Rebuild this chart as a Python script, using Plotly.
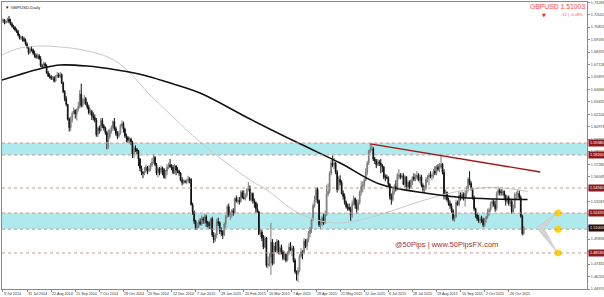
import plotly.graph_objects as go

# ---------------- data ----------------
opens = [
1.7140,1.7155,1.7125,1.7140,1.7160,1.7135,1.7110,1.7090,1.7080,1.7055,
1.7040,1.7005,1.6975,1.6980,1.6960,1.6950,1.6915,1.6880,1.6830,1.6865,
1.6855,1.6825,1.6800,1.6785,1.6800,1.6770,1.6700,1.6695,1.6720,1.6700,
1.6630,1.6600,1.6590,1.6575,1.6585,1.6550,1.6595,1.6610,1.6595,1.6615,
1.6530,1.6445,1.6375,1.6320,1.6175,1.6090,1.6170,1.6230,1.6260,1.6225,
1.6270,1.6300,1.6420,1.6310,1.6355,1.6375,1.6325,1.6290,1.6235,1.6250,
1.6210,1.6190,1.6165,1.6020,1.6085,1.6060,1.6160,1.6105,1.6085,1.6040,
1.5950,1.6000,1.6060,1.6090,1.6150,1.6080,1.6030,1.6005,1.6035,1.6110,
1.6130,1.6075,1.6010,1.5990,1.5965,1.5975,1.5950,1.5830,1.5885,1.5875,
1.5860,1.5780,1.5690,1.5650,1.5640,1.5660,1.5700,1.5665,1.5680,1.5720,
1.5750,1.5795,1.5725,1.5640,1.5685,1.5650,1.5690,1.5675,1.5600,1.5660,
1.5700,1.5720,1.5705,1.5700,1.5645,1.5710,1.5670,1.5660,1.5640,1.5570,
1.5545,1.5560,1.5555,1.5560,1.5585,1.5580,1.5330,1.5260,1.5165,1.5100,
1.5115,1.5160,1.5140,1.5190,1.5180,1.5210,1.5150,1.5150,1.5120,1.5190,
1.5030,1.4980,1.5030,1.5160,1.5150,1.5070,1.5065,1.5030,1.5140,1.5210,
1.5310,1.5235,1.5240,1.5270,1.5250,1.5390,1.5365,1.5370,1.5360,1.5450,
1.5400,1.5390,1.5420,1.5480,1.5500,1.5380,1.5440,1.5370,1.5350,1.5290,
1.5260,1.5040,1.5060,1.5000,1.4910,1.5000,1.4730,1.4745,1.4810,1.4960,
1.4750,1.4920,1.4880,1.4970,1.4850,1.4905,1.4860,1.4800,1.4840,1.4780,
1.4850,1.4910,1.4880,1.4900,1.4780,1.4670,1.4640,1.4680,1.4820,1.4860,
1.4850,1.4970,1.4920,1.4985,1.5045,1.5090,1.5180,1.5320,1.5380,1.5480,
1.5370,1.5130,1.5150,1.5200,1.5150,1.5230,1.5440,1.5460,1.5640,1.5740,
1.5720,1.5740,1.5650,1.5480,1.5580,1.5550,1.5440,1.5410,1.5350,1.5310,
1.5300,1.5285,1.5230,1.5340,1.5390,1.5330,1.5285,1.5350,1.5455,1.5510,
1.5520,1.5570,1.5650,1.5740,1.5860,1.5880,1.5880,1.5780,1.5760,1.5720,
1.5750,1.5740,1.5720,1.5700,1.5600,1.5600,1.5595,1.5530,1.5410,1.5380,
1.5460,1.5510,1.5490,1.5620,1.5620,1.5600,1.5615,1.5530,1.5605,1.5500,
1.5550,1.5500,1.5570,1.5600,1.5580,1.5600,1.5620,1.5570,1.5605,1.5520,
1.5480,1.5495,1.5580,1.5600,1.5620,1.5610,1.5620,1.5660,1.5640,1.5700,
1.5680,1.5700,1.5730,1.5650,1.5420,1.5450,1.5380,1.5340,1.5320,1.5270,
1.5190,1.5210,1.5350,1.5330,1.5420,1.5390,1.5430,1.5390,1.5440,1.5490,
1.5580,1.5540,1.5490,1.5400,1.5290,1.5230,1.5190,1.5170,1.5190,1.5180,
1.5130,1.5190,1.5210,1.5260,1.5280,1.5340,1.5360,1.5330,1.5290,1.5440,
1.5470,1.5450,1.5450,1.5460,1.5420,1.5360,1.5400,1.5340,1.5360,1.5260,
1.5300,1.5430,1.5430,1.5440,1.5400,1.5220,1.5045]
highs = [
1.7170,1.7160,1.7150,1.7175,1.7192,1.7165,1.7130,1.7105,1.7090,1.7070,
1.7055,1.7015,1.6995,1.6995,1.6985,1.6970,1.6930,1.6890,1.6880,1.6895,
1.6870,1.6850,1.6820,1.6820,1.6815,1.6795,1.6720,1.6740,1.6735,1.6715,
1.6650,1.6625,1.6610,1.6600,1.6600,1.6610,1.6640,1.6630,1.6640,1.6625,
1.6545,1.6460,1.6400,1.6320,1.6190,1.6200,1.6250,1.6290,1.6270,1.6280,
1.6345,1.6460,1.6525,1.6380,1.6410,1.6390,1.6345,1.6315,1.6280,1.6265,
1.6240,1.6220,1.6185,1.6100,1.6110,1.6185,1.6185,1.6125,1.6100,1.6060,
1.6070,1.6080,1.6110,1.6160,1.6185,1.6100,1.6055,1.6060,1.6125,1.6160,
1.6150,1.6090,1.6030,1.6005,1.6000,1.5990,1.5960,1.5905,1.5915,1.5890,
1.5870,1.5790,1.5715,1.5660,1.5700,1.5725,1.5710,1.5720,1.5740,1.5790,
1.5825,1.5810,1.5740,1.5700,1.5700,1.5715,1.5705,1.5690,1.5670,1.5730,
1.5745,1.5780,1.5730,1.5720,1.5730,1.5720,1.5700,1.5675,1.5650,1.5600,
1.5580,1.5575,1.5580,1.5615,1.5600,1.5590,1.5350,1.5270,1.5180,1.5145,
1.5180,1.5195,1.5225,1.5210,1.5240,1.5230,1.5170,1.5165,1.5200,1.5210,
1.5060,1.5050,1.5190,1.5200,1.5165,1.5105,1.5080,1.5155,1.5230,1.5330,
1.5340,1.5260,1.5285,1.5295,1.5400,1.5420,1.5400,1.5405,1.5470,1.5470,
1.5470,1.5440,1.5490,1.5552,1.5520,1.5450,1.5450,1.5390,1.5360,1.5340,
1.5270,1.5090,1.5080,1.5030,1.5020,1.5010,1.4820,1.4850,1.5150,1.4990,
1.4950,1.4960,1.4990,1.4980,1.4930,1.4935,1.4880,1.4870,1.4850,1.4870,
1.4950,1.4960,1.4930,1.4920,1.4800,1.4680,1.4710,1.4840,1.4900,1.4880,
1.5000,1.4990,1.5000,1.5070,1.5110,1.5200,1.5340,1.5420,1.5500,1.5500,
1.5380,1.5190,1.5220,1.5240,1.5270,1.5525,1.5540,1.5660,1.5770,1.5815,
1.5790,1.5750,1.5670,1.5610,1.5620,1.5570,1.5470,1.5440,1.5370,1.5340,
1.5340,1.5310,1.5370,1.5420,1.5400,1.5380,1.5380,1.5470,1.5560,1.5560,
1.5590,1.5690,1.5760,1.5870,1.5930,1.5920,1.5900,1.5800,1.5780,1.5780,
1.5770,1.5780,1.5730,1.5710,1.5630,1.5625,1.5610,1.5540,1.5440,1.5500,
1.5530,1.5570,1.5640,1.5680,1.5640,1.5640,1.5640,1.5620,1.5610,1.5570,
1.5570,1.5580,1.5610,1.5640,1.5630,1.5660,1.5640,1.5630,1.5625,1.5540,
1.5520,1.5600,1.5620,1.5640,1.5660,1.5640,1.5680,1.5710,1.5720,1.5730,
1.5740,1.5820,1.5740,1.5680,1.5480,1.5460,1.5400,1.5370,1.5340,1.5290,
1.5230,1.5380,1.5370,1.5460,1.5450,1.5460,1.5450,1.5470,1.5510,1.5600,
1.5660,1.5560,1.5500,1.5420,1.5300,1.5250,1.5230,1.5210,1.5220,1.5200,
1.5200,1.5220,1.5290,1.5300,1.5360,1.5390,1.5380,1.5370,1.5460,1.5508,
1.5490,1.5480,1.5480,1.5470,1.5430,1.5420,1.5420,1.5390,1.5380,1.5330,
1.5450,1.5460,1.5480,1.5470,1.5420,1.5230,1.5120]
lows = [
1.7125,1.7110,1.7115,1.7125,1.7120,1.7100,1.7075,1.7060,1.7040,1.7025,
1.6990,1.6960,1.6955,1.6940,1.6935,1.6900,1.6870,1.6810,1.6815,1.6840,
1.6810,1.6780,1.6770,1.6770,1.6760,1.6690,1.6680,1.6680,1.6680,1.6620,
1.6590,1.6575,1.6560,1.6560,1.6535,1.6540,1.6580,1.6580,1.6580,1.6520,
1.6430,1.6350,1.6300,1.6160,1.6050,1.6060,1.6140,1.6220,1.6180,1.6160,
1.6250,1.6280,1.6290,1.6290,1.6320,1.6310,1.6270,1.6220,1.6210,1.6165,
1.6160,1.6140,1.6000,1.5995,1.6030,1.6050,1.6085,1.6060,1.6020,1.5875,
1.5880,1.5980,1.6030,1.6060,1.6060,1.6010,1.5975,1.5990,1.6020,1.6090,
1.6040,1.5990,1.5945,1.5940,1.5930,1.5920,1.5790,1.5790,1.5850,1.5830,
1.5710,1.5660,1.5620,1.5590,1.5620,1.5645,1.5630,1.5650,1.5660,1.5700,
1.5735,1.5710,1.5620,1.5600,1.5620,1.5630,1.5620,1.5585,1.5585,1.5620,
1.5680,1.5690,1.5670,1.5630,1.5630,1.5620,1.5640,1.5615,1.5560,1.5520,
1.5530,1.5540,1.5530,1.5540,1.5540,1.5320,1.5230,1.5140,1.5080,1.5080,
1.5100,1.5125,1.5120,1.5140,1.5140,1.5110,1.5105,1.5090,1.5085,1.5010,
1.4950,1.4960,1.5000,1.5120,1.5040,1.5020,1.4990,1.5020,1.5100,1.5200,
1.5210,1.5180,1.5200,1.5220,1.5240,1.5350,1.5340,1.5330,1.5350,1.5390,
1.5380,1.5370,1.5400,1.5460,1.5365,1.5360,1.5340,1.5300,1.5250,1.5250,
1.5030,1.5010,1.4970,1.4890,1.4900,1.4710,1.4700,1.4720,1.4635,1.4730,
1.4740,1.4860,1.4850,1.4840,1.4830,1.4840,1.4780,1.4780,1.4760,1.4770,
1.4830,1.4870,1.4820,1.4760,1.4650,1.4580,1.4566,1.4660,1.4800,1.4790,
1.4840,1.4900,1.4880,1.4960,1.5010,1.5050,1.5170,1.5300,1.5350,1.5340,
1.5110,1.5090,1.5120,1.5130,1.5140,1.5220,1.5410,1.5440,1.5620,1.5700,
1.5680,1.5630,1.5450,1.5470,1.5520,1.5430,1.5380,1.5330,1.5290,1.5270,
1.5270,1.5170,1.5200,1.5320,1.5290,1.5240,1.5270,1.5330,1.5420,1.5450,
1.5480,1.5560,1.5620,1.5720,1.5840,1.5860,1.5760,1.5730,1.5690,1.5710,
1.5710,1.5640,1.5650,1.5580,1.5560,1.5580,1.5500,1.5380,1.5330,1.5360,
1.5430,1.5460,1.5470,1.5580,1.5580,1.5590,1.5520,1.5500,1.5480,1.5470,
1.5480,1.5490,1.5520,1.5560,1.5560,1.5580,1.5560,1.5540,1.5500,1.5450,
1.5440,1.5470,1.5550,1.5520,1.5590,1.5570,1.5590,1.5620,1.5620,1.5660,
1.5650,1.5690,1.5630,1.5380,1.5380,1.5360,1.5320,1.5290,1.5250,1.5170,
1.5160,1.5200,1.5320,1.5310,1.5370,1.5380,1.5370,1.5310,1.5400,1.5460,
1.5520,1.5470,1.5380,1.5270,1.5200,1.5170,1.5150,1.5140,1.5150,1.5107,
1.5110,1.5150,1.5190,1.5220,1.5260,1.5300,1.5310,1.5260,1.5270,1.5420,
1.5420,1.5420,1.5420,1.5380,1.5320,1.5340,1.5320,1.5310,1.5240,1.5250,
1.5290,1.5380,1.5390,1.5380,1.5200,1.5025,1.5030]
closes = [
1.7155,1.7125,1.7140,1.7160,1.7135,1.7110,1.7090,1.7080,1.7055,1.7040,
1.7005,1.6975,1.6980,1.6960,1.6950,1.6915,1.6880,1.6830,1.6865,1.6855,
1.6825,1.6800,1.6785,1.6800,1.6770,1.6700,1.6695,1.6720,1.6700,1.6630,
1.6600,1.6590,1.6575,1.6585,1.6550,1.6595,1.6610,1.6595,1.6615,1.6530,
1.6445,1.6375,1.6320,1.6175,1.6090,1.6170,1.6230,1.6260,1.6225,1.6270,
1.6300,1.6420,1.6310,1.6355,1.6375,1.6325,1.6290,1.6235,1.6250,1.6210,
1.6190,1.6165,1.6020,1.6085,1.6060,1.6160,1.6105,1.6085,1.6040,1.5950,
1.6000,1.6060,1.6090,1.6150,1.6080,1.6030,1.6005,1.6035,1.6110,1.6130,
1.6075,1.6010,1.5990,1.5965,1.5975,1.5950,1.5830,1.5885,1.5875,1.5860,
1.5780,1.5690,1.5650,1.5640,1.5660,1.5700,1.5665,1.5680,1.5720,1.5750,
1.5795,1.5725,1.5640,1.5685,1.5650,1.5690,1.5675,1.5600,1.5660,1.5700,
1.5720,1.5705,1.5700,1.5645,1.5710,1.5670,1.5660,1.5640,1.5570,1.5545,
1.5560,1.5555,1.5560,1.5585,1.5580,1.5330,1.5260,1.5165,1.5100,1.5115,
1.5160,1.5140,1.5190,1.5180,1.5210,1.5150,1.5150,1.5120,1.5190,1.5030,
1.4980,1.5030,1.5160,1.5150,1.5070,1.5065,1.5030,1.5140,1.5210,1.5310,
1.5235,1.5240,1.5270,1.5250,1.5390,1.5365,1.5370,1.5360,1.5450,1.5400,
1.5390,1.5420,1.5480,1.5500,1.5380,1.5440,1.5370,1.5350,1.5290,1.5260,
1.5040,1.5060,1.5000,1.4910,1.5000,1.4730,1.4745,1.4810,1.4960,1.4750,
1.4920,1.4880,1.4970,1.4850,1.4905,1.4860,1.4800,1.4840,1.4780,1.4850,
1.4910,1.4880,1.4900,1.4780,1.4670,1.4640,1.4680,1.4820,1.4860,1.4850,
1.4970,1.4920,1.4985,1.5045,1.5090,1.5180,1.5320,1.5380,1.5480,1.5370,
1.5130,1.5150,1.5200,1.5150,1.5230,1.5440,1.5460,1.5640,1.5740,1.5720,
1.5740,1.5650,1.5480,1.5580,1.5550,1.5440,1.5410,1.5350,1.5310,1.5300,
1.5285,1.5230,1.5340,1.5390,1.5330,1.5285,1.5350,1.5455,1.5510,1.5520,
1.5570,1.5650,1.5740,1.5860,1.5880,1.5880,1.5780,1.5760,1.5720,1.5750,
1.5740,1.5720,1.5700,1.5600,1.5600,1.5595,1.5530,1.5410,1.5380,1.5460,
1.5510,1.5490,1.5620,1.5620,1.5600,1.5615,1.5530,1.5605,1.5500,1.5550,
1.5500,1.5570,1.5600,1.5580,1.5600,1.5620,1.5570,1.5605,1.5520,1.5480,
1.5495,1.5580,1.5600,1.5620,1.5610,1.5620,1.5660,1.5640,1.5700,1.5680,
1.5700,1.5730,1.5650,1.5420,1.5450,1.5380,1.5340,1.5320,1.5270,1.5190,
1.5210,1.5350,1.5330,1.5420,1.5390,1.5430,1.5390,1.5440,1.5490,1.5580,
1.5540,1.5490,1.5400,1.5290,1.5230,1.5190,1.5170,1.5190,1.5180,1.5130,
1.5190,1.5210,1.5260,1.5280,1.5340,1.5360,1.5330,1.5290,1.5440,1.5470,
1.5450,1.5450,1.5460,1.5420,1.5360,1.5400,1.5340,1.5360,1.5260,1.5300,
1.5430,1.5430,1.5440,1.5400,1.5220,1.5045,1.5100]
bars = list(range(len(closes)))

# x-axis date labels (bar index of each label)
date_ticks = [0, 16, 32, 48, 64, 80, 96, 112, 128, 144, 160, 176, 192,
              208, 224, 240, 256, 272, 288, 304, 320, 336]
date_labels = ["9 Jul 2014", "31 Jul 2014", "22 Aug 2014", "15 Sep 2014",
               "7 Oct 2014", "29 Oct 2014", "20 Nov 2014", "12 Dec 2014",
               "7 Jan 2015", "29 Jan 2015", "20 Feb 2015", "16 Mar 2015",
               "7 Apr 2015", "29 Apr 2015", "21 May 2015", "12 Jun 2015",
               "6 Jul 2015", "28 Jul 2015", "19 Aug 2015", "10 Sep 2015",
               "2 Oct 2015", "26 Oct 2015"]

# price scale ticks (the one under the 1.54940 marker is hidden by it)
price_ticks = [1.44970, 1.46201, 1.47432, 1.48663, 1.49894, 1.51125, 1.52356,
               1.53587, 1.54818, 1.56049, 1.57280, 1.58511, 1.59742, 1.60973,
               1.62204, 1.63435, 1.64666, 1.65897, 1.67128, 1.68359, 1.69590,
               1.70821, 1.72052, 1.73283]
price_tick_text = ["1.44970", "1.46201", "1.47432", "1.48663", "1.49894",
                   "1.51125", "1.52356", "1.53587", "", "1.56049", "1.57280",
                   "1.58511", "1.59742", "1.60973", "1.62204", "1.63435",
                   "1.64666", "1.65897", "1.67128", "1.68359", "1.69590",
                   "1.70821", "1.72052", "1.73283"]

# moving averages
ma_slow_x = [-0.7, 26.6, 37.9, 55.8, 75.7, 93.0, 109.0, 130.9, 164.1, 197.3,
             224.0, 250.6, 282.5, 305.0, 326.6, 348.5]
ma_slow_y = [1.6560, 1.6679, 1.6708, 1.6698, 1.6659, 1.6610, 1.6540, 1.6432,
             1.6175, 1.5930, 1.5740, 1.5530, 1.5440, 1.5400, 1.5385, 1.5380]
ma_fast_x = [-0.7, 11.3, 26.6, 37.9, 53.2, 71.1, 82.4, 97.7, 113.0, 130.9,
             164.1, 175.4, 192.7, 204.0, 219.3, 230.6, 250.6, 270.5, 290.5,
             305.8, 325.7, 348.5]
ma_fast_y = [1.6807, 1.6876, 1.6896, 1.6886, 1.6856, 1.6777, 1.6659, 1.6412,
             1.6195, 1.5948, 1.5573, 1.5474, 1.5277, 1.5198, 1.5149, 1.5159,
             1.5230, 1.5330, 1.5420, 1.5470, 1.5500, 1.5460]

# drawn objects
trend_x = [244, 357]
trend_y = [1.5930, 1.5652]
upper_zone = [1.5820, 1.5938]
lower_zone = [1.5088, 1.5247]
dotted_levels = [1.5938, 1.5820, 1.5494, 1.5247, 1.5088, 1.4853]
level_labels = ["1.59380", "1.58200", "1.54940", "1.52470", "1.48530"]
level_label_vals = [1.5938, 1.5820, 1.5494, 1.5247, 1.4853]
bid_price = 1.51003
target_x = [368.8, 368.8, 368.8]
target_y = [1.5247, 1.5088, 1.4853]
chevron_x = [354.5, 368.0, 359.5, 368.0]
chevron_y = [1.5100, 1.5250, 1.5095, 1.4860]
watermark_x = 259
watermark_y = 1.4935

Y_MIN, Y_MAX = 1.4497, 1.7330
X_MIN, X_MAX = -0.66, 388.0

fig = go.Figure()

fig.add_trace(go.Scatter(x=ma_fast_x, y=ma_fast_y, mode="lines",
                         line=dict(color="#c8c8c8", width=1, shape="spline"),
                         hoverinfo="skip"))
fig.add_trace(go.Candlestick(
    x=bars, open=opens, high=highs, low=lows, close=closes,
    increasing=dict(line=dict(color="#7a7a7a", width=1), fillcolor="#a8a8a8"),
    decreasing=dict(line=dict(color="#111111", width=1), fillcolor="#111111"),
    whiskerwidth=0))
fig.add_trace(go.Scatter(x=ma_slow_x, y=ma_slow_y, mode="lines",
                         line=dict(color="#101010", width=1.6, shape="spline"),
                         hoverinfo="skip"))

shapes = []
for lo, hi in (upper_zone, lower_zone):
    shapes.append(dict(type="rect", xref="paper", yref="y", x0=0, x1=1,
                       y0=lo, y1=hi, fillcolor="#aeeaed", line=dict(width=0),
                       layer="below"))
for lv in dotted_levels:
    shapes.append(dict(type="line", xref="paper", yref="y", x0=0, x1=1,
                       y0=lv, y1=lv, line=dict(color="#c99a94", width=1, dash="dot")))
shapes.append(dict(type="line", xref="x", yref="y", x0=trend_x[0], x1=trend_x[1],
                   y0=trend_y[0], y1=trend_y[1], line=dict(color="#a31515", width=1.4)))
path = "M {} {} L {} {} L {} {} L {} {} Z".format(
    chevron_x[0], chevron_y[0], chevron_x[1], chevron_y[1],
    chevron_x[2], chevron_y[2], chevron_x[3], chevron_y[3])
shapes.append(dict(type="path", xref="x", yref="y", path=path,
                   fillcolor="#d4d4d4", line=dict(color="#bdbdbd", width=0.5)))
fig.update_layout(shapes=shapes)

fig.add_trace(go.Scatter(x=target_x, y=target_y, mode="markers",
                         marker=dict(color="#ffd200", size=7, line=dict(width=0)),
                         cliponaxis=False, hoverinfo="skip"))

ann = []
for b, t in zip(date_ticks, date_labels):
    ann.append(dict(x=b, y=0, xref="x", yref="paper", text=t, showarrow=False,
                    xanchor="left", yanchor="top", yshift=-1, xshift=-1,
                    font=dict(size=3.7, color="#333333", family="Liberation Sans")))
for v, t in zip(level_label_vals, level_labels):
    ann.append(dict(x=1, y=v, xref="paper", yref="y", text=t, showarrow=False,
                    xanchor="left", yanchor="middle", xshift=1,
                    bgcolor="#8e1b1b", borderpad=1,
                    font=dict(size=3.8, color="#ffffff", family="Liberation Sans")))
ann.append(dict(x=1, y=bid_price, xref="paper", yref="y", text="1.51003",
                showarrow=False, xanchor="left", yanchor="middle", xshift=1,
                bgcolor="#2a0a0a", borderpad=1,
                font=dict(size=3.8, color="#ffffff", family="Liberation Sans")))
ann.append(dict(x=0, y=1, xref="paper", yref="paper", text="▼ GBPUSD,Daily",
                showarrow=False, xanchor="left", yanchor="top", xshift=1, yshift=-1,
                font=dict(size=4.4, color="#222222", family="Liberation Sans")))
ann.append(dict(x=1, y=1, xref="paper", yref="paper", text="GBPUSD 1.51003",
                showarrow=False, xanchor="right", yanchor="top", xshift=0, yshift=1,
                font=dict(size=6.8, color="#ff4a4a", family="Liberation Sans")))
ann.append(dict(x=1, y=1, xref="paper", yref="paper", text="-12 | -0.08%",
                showarrow=False, xanchor="right", yanchor="top", xshift=-2, yshift=-8,
                font=dict(size=4, color="#ff4a4a", family="Liberation Sans")))
ann.append(dict(x=1, y=1, xref="paper", yref="paper", text="▼",
                showarrow=False, xanchor="center", yanchor="top", xshift=-43, yshift=-8,
                font=dict(size=5, color="#ff2020", family="DejaVu Sans")))
ann.append(dict(x=watermark_x, y=watermark_y, xref="x", yref="y",
                text="@50Pips | www.50PipsFX.com", showarrow=False,
                xanchor="left", yanchor="middle",
                font=dict(size=7.5, color="#a5322c", family="Liberation Sans")))

fig.update_layout(
    template="none",
    width=604, height=297,
    margin=dict(l=2, r=17, t=2, b=8),
    paper_bgcolor="#ffffff", plot_bgcolor="#ffffff",
    showlegend=False,
    annotations=ann,
    xaxis=dict(range=[X_MIN, X_MAX], rangeslider=dict(visible=False),
               showgrid=False, zeroline=False, automargin=False,
               tickmode="array", tickvals=date_ticks, ticktext=[""] * len(date_ticks),
               ticks="outside", ticklen=2, tickcolor="#888888",
               showline=True, linecolor="#888888", linewidth=1, mirror=True),
    yaxis=dict(range=[Y_MIN, Y_MAX], side="right", showgrid=False, zeroline=False,
               automargin=False, tickmode="array", tickvals=price_ticks,
               ticktext=price_tick_text,
               ticks="outside", ticklen=2, tickcolor="#888888",
               tickfont=dict(size=3.8, color="#444444", family="Liberation Sans"),
               showline=True, linecolor="#888888", linewidth=1, mirror=True),
)

fig.write_html("out.html")
